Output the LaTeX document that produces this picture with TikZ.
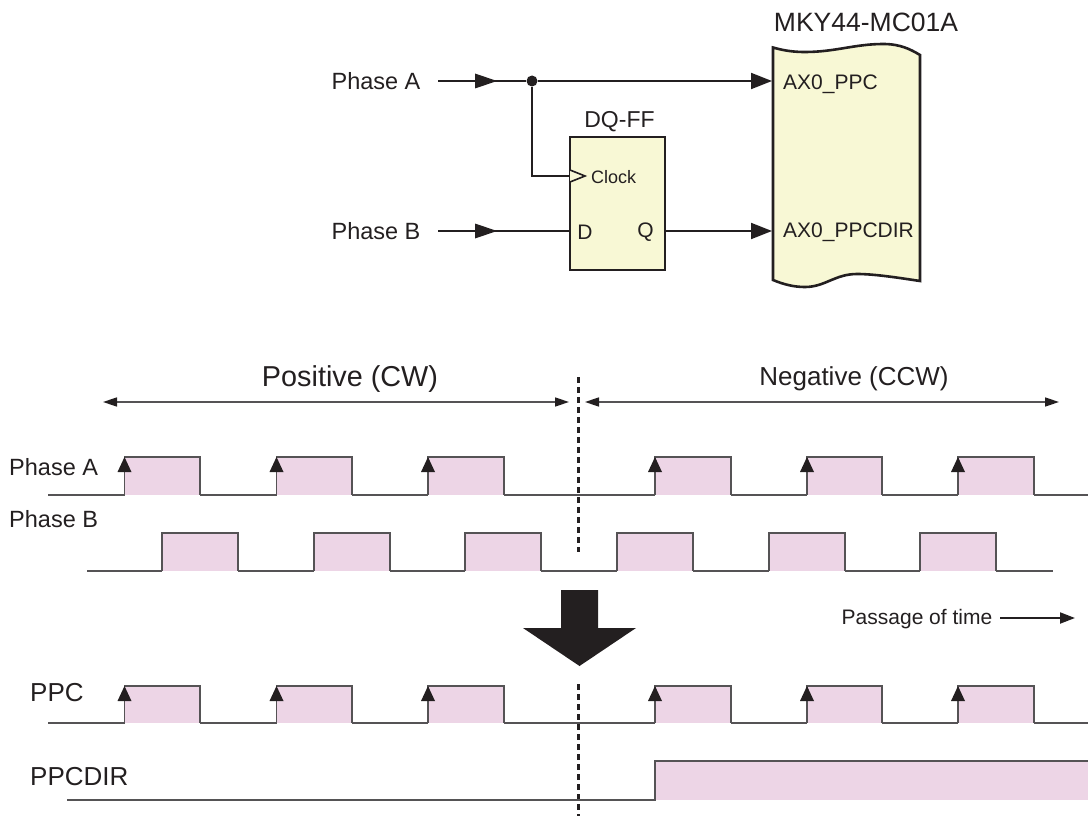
\documentclass[tikz,border=0pt]{standalone}
\usepackage{fontspec}
\setmainfont{Liberation Sans}
\usetikzlibrary{arrows.meta}
\definecolor{ink}{HTML}{231F20}
\definecolor{sig}{HTML}{555355}
\definecolor{pinkf}{HTML}{EDD5E6}
\definecolor{yel}{HTML}{F8F8D5}
\newcommand{\fs}[1]{\fontsize{#1}{#1}\selectfont}
\tikzset{
  x=1pt,y=-1pt,
  lab/.style={inner sep=0pt,text=ink,anchor=center},
  wire/.style={draw=ink,line width=2pt},
  endtip/.style={-{Triangle[length=21pt,width=16pt,color=ink]}},
  trace/.style={draw=sig,line width=1.4pt},
  cut/.style={draw=ink,line width=2.2pt,dash pattern=on 5.5pt off 4.5pt},
  chipbox/.style={draw=ink,fill=yel,line width=2.6pt},
  spantip/.style={draw=sig,line width=1.6pt,{Triangle[length=14pt,width=9pt,color=ink]}-{Triangle[length=14pt,width=9pt,color=ink]}},
}
\newcommand{\pulses}[3]{% base y, high y, list of rise/fall
  \foreach \r/\f in {#3}{\fill[pinkf] (\r,#1)--(\r,#2)--(\f,#2)--(\f,#1)--cycle;}
  \foreach \r/\f in {#3}{\draw[trace] (\r,#1)--(\r,#2)--(\f,#2)--(\f,#1);}
}
\begin{document}
\begin{tikzpicture}
\useasboundingbox (0,0) rectangle (1088,816);
% chip
\draw[chipbox] (773,47.5) .. controls (785,51) and (795,52) .. (805,52) .. controls (835,52) and (855,44) .. (883,44) .. controls (900,44) and (910,49) .. (920,55)
  -- (920,281) .. controls (900,278) and (875,274) .. (857,274) .. controls (835,274) and (825,287) .. (805,287) .. controls (795,287) and (785,285) .. (773,280) -- cycle;
\node[lab,font=\fs{26.5}] (chipt) at (866,22) {MKY44-MC01A};
\node[lab,font=\fs{21},anchor=west] (ppc) at (783,84) {AX0\_PPC};
\node[lab,font=\fs{21},anchor=west] (dir) at (783,232) {AX0\_PPCDIR};
\coordinate (pina) at (772,81);
\coordinate (pinb) at (772,231);
% flip-flop
\node[chipbox,minimum width=95pt,minimum height=133pt,inner sep=0pt] (ff) at (617.5,203.5) {};
\node[lab,font=\fs{23}] (fft) at (619.5,122) {DQ-FF};
\node[lab,font=\fs{18},anchor=west] (clk) at (591,177) {Clock};
\node[lab,font=\fs{21}] (d) at (585,232) {D};
\node[lab,font=\fs{21}] (q) at (645.5,232) {Q};
\coordinate (ffclk) at (570,176);
\coordinate (ffd) at (570,231);
\coordinate (ffq) at (665,231);
% inputs
\node[lab,font=\fs{23.5}] (pa) at (376,81) {Phase A};
\node[lab,font=\fs{23.5}] (pb) at (376,231) {Phase B};
\coordinate (sa) at (438,81);
\coordinate (sb) at (438,231);
\node[circle,fill=ink,inner sep=0pt,minimum size=11pt] (dot) at (532,81) {};
\draw[wire] (sa) -- (dot);
\draw[wire,endtip] (dot) -- (pina);
\draw[wire] (dot) |- (ffclk);
\draw[draw=ink,line width=1.6pt,fill=yel,line join=miter] (570,170)--(585,176)--(570,182);
\draw[wire] (sb) -- (ffd);
\draw[wire,endtip] (ffq) -- (pinb);
\fill[ink] (497,81)--(475,73.5)--(475,88.5)--cycle;
\fill[ink] (497,231)--(475,223.5)--(475,238.5)--cycle;
% direction labels
\node[lab,font=\fs{28.8}] (pos) at (350,379.5) {Positive (CW)};
\node[lab,font=\fs{26}] (neg) at (854,379) {Negative (CCW)};
\coordinate (la) at (103,402); \coordinate (lb) at (569,402);
\coordinate (ra) at (585,402); \coordinate (rb) at (1059,402);
\draw[spantip] (la) -- (lb);
\draw[spantip] (ra) -- (rb);
% Phase A
\node[lab,font=\fs{23.5},anchor=west] (ta) at (9,467) {Phase A};
\pulses{495}{457}{124.5/200,276.5/352,428/504,655/731,807/882,958/1034}
\draw[trace] (48,495)--(124.5,495) (200,495)--(276.5,495) (352,495)--(428,495) (504,495)--(655,495) (731,495)--(807,495) (882,495)--(958,495) (1034,495)--(1088,495);
\foreach \x in {124.5,276.5,428,655,807,958}{\fill[ink] (\x,457)--(\x-7,472)--(\x+7,472)--cycle;}
% Phase B
\node[lab,font=\fs{23.5},anchor=west] (tb) at (9,519) {Phase B};
\pulses{571}{533}{162/238,314/390,465/541,617/693,769/845,920/996}
\draw[trace] (87,571)--(162,571) (238,571)--(314,571) (390,571)--(465,571) (541,571)--(617,571) (693,571)--(769,571) (845,571)--(920,571) (996,571)--(1053,571);
% dashes
\coordinate (c1) at (578.5,377); \coordinate (c2) at (578.5,552);
\coordinate (c3) at (578.5,684); \coordinate (c4) at (578.5,816);
\draw[cut] (c1) -- (c2);
\draw[cut] (c3) -- (c4);
% big arrow
\fill[ink] (561,590)--(598,590)--(598,628)--(636,628)--(579.5,666)--(523,628)--(561,628)--cycle;
% time
\node[lab,font=\fs{21}] (tm) at (917,619) {Passage of time};
\coordinate (tme) at (1075,618); \coordinate (tms) at (1000,618);
\draw[wire,-{Triangle[length=15pt,width=11pt,color=ink]}] (tms) -- (tme);
% PPC
\node[lab,font=\fs{26},anchor=west] (tc) at (30,693) {PPC};
\pulses{723}{686}{124.5/200,276.5/352,428/504,655/731,807/882,958/1034}
\draw[trace] (48,723)--(124.5,723) (200,723)--(276.5,723) (352,723)--(428,723) (504,723)--(655,723) (731,723)--(807,723) (882,723)--(958,723) (1034,723)--(1088,723);
\foreach \x in {124.5,276.5,428,655,807,958}{\fill[ink] (\x,686)--(\x-7,701)--(\x+7,701)--cycle;}
% PPCDIR
\node[lab,font=\fs{26},anchor=west] (td) at (30,777) {PPCDIR};
\fill[pinkf] (655,800)--(655,761)--(1088,761)--(1088,800)--cycle;
\draw[trace] (67,800)--(655,800)--(655,761)--(1088,761);
\end{tikzpicture}
\end{document}
